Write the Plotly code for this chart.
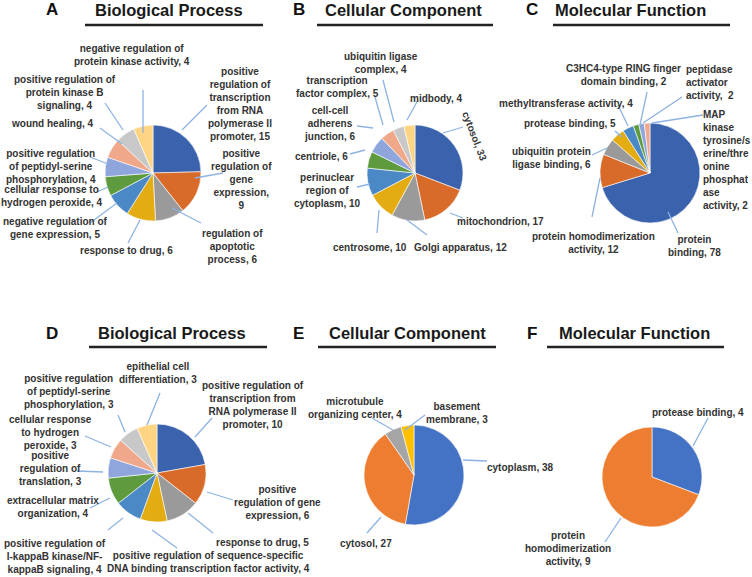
import plotly.graph_objects as go

W, H = 752, 577

# ---------------- data ----------------
a_cats = ["positive regulation of transcription from RNA polymerase II promoter",
          "positive regulation of gene expression", "regulation of apoptotic process",
          "response to drug", "negative regulation of gene expression",
          "cellular response to hydrogen peroxide",
          "positive regulation of peptidyl-serine phosphorylation", "wound healing",
          "positive regulation of protein kinase B signaling",
          "negative regulation of protein kinase activity"]
a_vals = [15, 9, 6, 6, 5, 4, 4, 4, 4, 4]

b_cats = ["cytosol", "mitochondrion", "Golgi apparatus", "centrosome",
          "perinuclear region of cytoplasm", "centriole", "cell-cell adherens junction",
          "transcription factor complex", "ubiquitin ligase complex", "midbody"]
b_vals = [33, 17, 12, 10, 10, 6, 6, 5, 4, 4]

c_cats = ["protein binding", "protein homodimerization activity",
          "ubiquitin protein ligase binding", "protease binding",
          "methyltransferase activity", "C3HC4-type RING finger domain binding",
          "peptidase activator activity",
          "MAP kinase tyrosine/serine/threonine phosphatase activity"]
c_vals = [78, 12, 6, 5, 4, 2, 2, 2]

d_cats = ["positive regulation of transcription from RNA polymerase II promoter",
          "positive regulation of gene expression", "response to drug",
          "positive regulation of sequence-specific DNA binding transcription factor activity",
          "positive regulation of I-kappaB kinase/NF-kappaB signaling",
          "extracellular matrix organization", "positive regulation of translation",
          "cellular response to hydrogen peroxide",
          "positive regulation of peptidyl-serine phosphorylation",
          "epithelial cell differentiation"]
d_vals = [10, 6, 5, 4, 4, 4, 3, 3, 3, 3]

e_cats = ["cytoplasm", "cytosol", "microtubule organizing center", "basement membrane"]
e_vals = [38, 27, 4, 3]

f_cats = ["protease binding", "protein homodimerization activity"]
f_vals = [4, 9]

panel_letters = ["A", "B", "C", "D", "E", "F"]
panel_titles = ["Biological Process", "Cellular Component", "Molecular Function",
                "Biological Process", "Cellular Component", "Molecular Function"]

# ---------------- styling / layout ----------------
dark_pal = ["#3A62AD", "#D86A2A", "#9A9A9A", "#E2AC12", "#4B88C6", "#5E9B3F",
            "#8EA6DC", "#F0A88A", "#C8C8C8", "#FFD584"]
bright_pal = ["#4472C4", "#ED7D31", "#A5A5A5", "#FFC000"]

LINE_COL = "#8DB3E2"
TXT_COL = "#333333"
FONT = "Liberation Sans, Arial, sans-serif"
LBL_SIZE = 10

# label layout: (x, y, template, line_from, line_to)
a_lab = [
    (240, 104, "positive<br>regulation of<br>transcription<br>from RNA<br>polymerase II<br>promoter, {v}", (182, 130), (207, 105)),
    (242, 179, "positive<br>regulation of<br>gene<br>expression,<br>{v}", (195, 178), (223, 173)),
    (232, 247, "regulation of<br>apoptotic<br>process, {v}", (172, 208), (201, 223)),
    (126, 250, "response to drug, {v}", (140, 220), (128, 243)),
    (55, 228, "negative regulation of<br>gene expression, {v}", (117, 203), (90, 223)),
    (52, 196, "cellular response to<br>hydrogen peroxide, {v}", (108, 187), (97, 192)),
    (51, 166, "positive regulation<br>of peptidyl-serine<br>phosphorylation, {v}", (108, 164), (90, 157)),
    (52, 124, "wound healing, {v}", (122, 144), (100, 128)),
    (65, 93, "positive regulation of<br>protein kinase B<br>signaling, {v}", (123, 130), (105, 103)),
    (132, 55, "negative regulation of<br>protein kinase activity, {v}", (143, 133), (143, 90)),
]
b_lab = [
    (475, 136, "cytosol, {v}", (443, 133), (463, 127)),
    (500, 222, "mitochondrion, {v}", (450, 213), (463, 218)),
    (460, 248, "Golgi apparatus, {v}", (407, 220), (427, 235)),
    (370, 248, "centrosome, {v}", (379, 210), (377, 233)),
    (327, 190, "perinuclear<br>region of<br>cytoplasm, {v}", (370, 184), (357, 187)),
    (321, 157, "centriole, {v}", (365, 150), (350, 154)),
    (329, 124, "cell-cell<br>adherens<br>junction, {v}", (373, 128), (357, 126)),
    (337, 87, "transcription<br>factor complex, {v}", (383, 125), (375, 97)),
    (381, 63, "ubiquitin ligase<br>complex, {v}", (394, 122), (383, 80)),
    (436, 98, "midbody, {v}", (407, 120), (418, 100)),
]
c_lab = [
    (694, 246, "protein<br>binding, {v}", (668, 212), (678, 233)),
    (593, 243, "protein homodimerization<br>activity, {v}", (600, 178), (592, 217)),
    (551, 158, "ubiquitin protein<br>ligase binding, {v}", (607, 148), (592, 155)),
    (570, 124, "protease binding, {v}", (622, 137), (615, 131)),
    (566, 103, "methyltransferase activity, {v}", (628, 126), (618, 105)),
    (623, 75, "C3HC4-type RING finger<br>domain binding, {v}", (640, 125), (647, 92)),
    (684, 82, "peptidase<br>activator<br>activity,  {v}", (643, 123), (682, 97)),
    (701, 160, "MAP<br>kinase<br>tyrosine/s<br>erine/thre<br>onine<br>phosphat<br>ase<br>activity, {v}", (652, 123), (703, 115)),
]
c_left = [False, False, False, False, False, False, True, True]
d_lab = [
    (253, 405, "positive regulation of<br>transcription from<br>RNA polymerase II<br>promoter, {v}", (195, 437), (212, 418)),
    (277, 502, "positive<br>regulation of gene<br>expression, {v}", (207, 492), (233, 500)),
    (262, 542, "response to drug, {v}", (188, 513), (213, 533)),
    (208, 562, "positive regulation of sequence-specific<br>DNA binding transcription factor activity, {v}", (152, 530), (177, 548)),
    (55, 556, "positive regulation of<br>I-kappaB kinase/NF-<br>kappaB signaling, {v}", (123, 518), (108, 530)),
    (53, 507, "extracellular matrix<br>organization, {v}", (110, 498), (90, 508)),
    (50, 468, "positive<br>regulation of<br>translation, {v}", (103, 472), (77, 471)),
    (50, 432, "cellular response<br>to hydrogen<br>peroxide, {v}", (111, 447), (85, 436)),
    (69, 391, "positive regulation<br>of peptidyl-serine<br>phosphorylation, {v}", (125, 432), (118, 415)),
    (158, 373, "epithelial cell<br>differentiation, {v}", (147, 425), (160, 393)),
]
e_lab = [
    (520, 467, "cytoplasm, {v}", (463, 460), (487, 461)),
    (366, 543, "cytosol, {v}", (381, 517), (367, 533)),
    (355, 408, "microtubule<br>organizing center, {v}", (393, 430), (372, 418)),
    (457, 413, "basement<br>membrane, {v}", (405, 430), (425, 415)),
]
f_lab = [
    (698, 412, "protease binding, {v}", (693, 446), (708, 418)),
    (568, 548, "protein<br>homodimerization<br>activity, {v}", (621, 518), (605, 542)),
]

# pie placement: (cx, cy, r) in pixels
panels = [
    (a_cats, a_vals, dark_pal, (153, 173, 48), a_lab, None),
    (b_cats, b_vals, dark_pal, (415, 173, 48), b_lab, None),
    (c_cats, c_vals, dark_pal, (650, 173, 50), c_lab, c_left),
    (d_cats, d_vals, dark_pal, (157, 473, 49), d_lab, None),
    (e_cats, e_vals, bright_pal, (414, 475, 50), e_lab, None),
    (f_cats, f_vals, bright_pal, (652, 477, 50), f_lab, None),
]

title_pos = [(52, 169, 10, 85, 263, 25), (299, 403, 10, 317, 493, 25),
             (532, 630, 10, 553, 730, 25), (52, 172, 333, 89, 267, 347),
             (298, 407, 333, 318, 496, 347), (532, 634, 333, 547, 724, 347)]


def px(x, y):
    return x / W, 1 - y / H


fig = go.Figure()
annotations = []
shapes = []

for cats, vals, pal, (cx, cy, r), labs, left in panels:
    fig.add_trace(go.Pie(
        labels=cats, values=vals, sort=False, direction="clockwise", rotation=0,
        marker=dict(colors=pal[:len(vals)], line=dict(color="white", width=0.6)),
        textinfo="none", hoverinfo="label+value", showlegend=False,
        domain=dict(x=[(cx - r) / W, (cx + r) / W], y=[1 - (cy + r) / H, 1 - (cy - r) / H]),
    ))
    for i, (lx, ly, tmpl, p0, p1) in enumerate(labs):
        is_left = bool(left and left[i])
        x, y = px(lx, ly)
        ann = dict(x=x, y=y, xref="paper", yref="paper", showarrow=False,
                   text=tmpl.format(v=vals[i]),
                   xanchor="left" if is_left else "center", yanchor="middle",
                   align="left" if is_left else "center",
                   font=dict(family=FONT, size=LBL_SIZE, color=TXT_COL, weight="bold"))
        if cats is b_cats and i == 0:
            ann["textangle"] = 69
        annotations.append(ann)
        x0, y0 = px(*p0)
        x1, y1 = px(*p1)
        shapes.append(dict(type="line", xref="paper", yref="paper", x0=x0, y0=y0, x1=x1, y1=y1,
                           line=dict(color=LINE_COL, width=1.3)))

for k, (lx, tx, ty, ux0, ux1, uy) in enumerate(title_pos):
    x, y = px(lx, ty)
    annotations.append(dict(x=x, y=y, xref="paper", yref="paper", showarrow=False,
                            text=panel_letters[k], xanchor="center", yanchor="middle",
                            font=dict(family=FONT, size=17, color="#111111", weight="bold")))
    x, y = px(tx, ty)
    annotations.append(dict(x=x, y=y, xref="paper", yref="paper", showarrow=False,
                            text=panel_titles[k], xanchor="center", yanchor="middle",
                            font=dict(family=FONT, size=16.5, color="#1a1a1a", weight="bold")))
    x0, y0 = px(ux0, uy)
    x1, _ = px(ux1, uy)
    shapes.append(dict(type="line", xref="paper", yref="paper", x0=x0, y0=y0, x1=x1, y1=y0,
                       line=dict(color="#222222", width=2.5)))

fig.update_layout(width=W, height=H, margin=dict(l=0, r=0, t=0, b=0),
                  paper_bgcolor="white", plot_bgcolor="white",
                  annotations=annotations, shapes=shapes)

fig.write_html("out.html", config={"displayModeBar": False},
               post_script="document.body.style.margin='0';")
